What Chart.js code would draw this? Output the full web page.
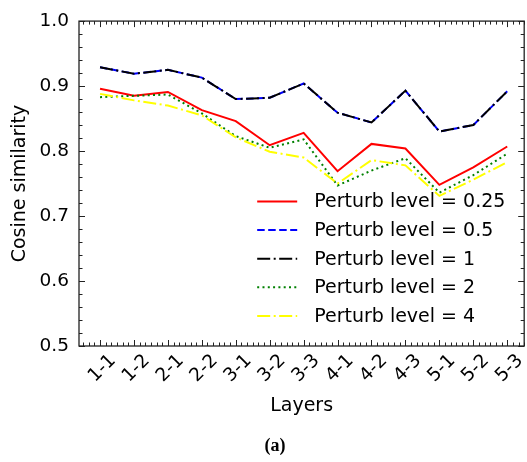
<!DOCTYPE html>
<html>
<head>
<meta charset="utf-8">
<script src="https://cdn.jsdelivr.net/npm/chart.js@4.4.0/dist/chart.umd.min.js"></script>
<style>
    body { margin: 0; background: #fff; }
</style>
</head>
<body>
<canvas id="myChart" width="527" height="462"></canvas>
<script>
// Data
    var layers = ['1-1','1-2','2-1','2-2','3-1','3-2','3-3','4-1','4-2','4-3','5-1','5-2','5-3'];
    var level025 = [0.896,0.885,0.891,0.863,0.846,0.809,0.828,0.769,0.811,0.804,0.748,0.775,0.807];
    var level05  = [0.929,0.919,0.925,0.913,0.880,0.882,0.904,0.859,0.844,0.893,0.830,0.840,0.892];
    var level1   = [0.929,0.919,0.925,0.913,0.880,0.882,0.904,0.859,0.844,0.893,0.830,0.840,0.892];
    var level2   = [0.883,0.885,0.887,0.858,0.823,0.805,0.818,0.747,0.770,0.789,0.736,0.763,0.796];
    var level4   = [0.888,0.878,0.870,0.855,0.821,0.799,0.790,0.750,0.786,0.778,0.731,0.756,0.783];
    var yTicks = [0.5, 0.6, 0.7, 0.8, 0.9, 1.0];
    var legendNames = ['Perturb level = 0.25','Perturb level = 0.5','Perturb level = 1','Perturb level = 2','Perturb level = 4'];
    var caption = '(a)';

    var fontFam = "'DejaVu Sans', sans-serif";

function toPoints(arr){
    return arr.map(function(v, i){ return {x: i, y: v}; });
}

function makeSet(i, values, color, dash){
    return {
        label: legendNames[i],
        data: toPoints(values),
        borderColor: color,
        backgroundColor: color,
        borderWidth: 2,
        borderDash: dash,
        borderCapStyle: 'butt',
        pointRadius: 0,
        tension: 0,
        fill: false,
        order: 5 - i
    };
}

// frame, inward ticks, legend inside plot and the caption
var extras = {
    id: 'extras',
    afterDatasetsDraw: function(chart){
        var ctx = chart.ctx, a = chart.chartArea;
        var xs = chart.scales.x, ys = chart.scales.y;
        try {
            ctx.save();
            ctx.strokeStyle = '#222';
            ctx.lineWidth = 1;
            var seg = function(x1, y1, x2, y2){
                ctx.beginPath(); ctx.moveTo(x1, y1); ctx.lineTo(x2, y2); ctx.stroke();
            };
            // x ticks, 6 steps per layer
            for (var k = -6; k <= 6 * layers.length; k++) {
                var v = k / 6;
                if (v < xs.min || v > xs.max) continue;
                var px = Math.round(xs.getPixelForValue(v)) + 0.5;
                var len = (k % 6 === 0) ? 6 : 3.5;
                seg(px, a.bottom, px, a.bottom - len);
                seg(px, a.top, px, a.top + len);
            }
            // y ticks, minor every 0.02
            for (var j = 0; j <= 25; j++) {
                var py = Math.round(ys.getPixelForValue(0.5 + j * 0.02)) + 0.5;
                var ylen = (j % 5 === 0) ? 6 : 3.5;
                seg(a.left, py, a.left + ylen, py);
                seg(a.right, py, a.right - ylen, py);
            }
            ctx.lineWidth = 1.3;
            ctx.strokeRect(a.left, a.top, a.right - a.left, a.bottom - a.top);

            // legend
            var x0 = a.right - 267, x1 = a.right - 227, tx = a.right - 210;
            var y0 = 201.5, step = 28.6;
            ctx.font = '19px ' + fontFam;
            ctx.textBaseline = 'middle';
            ctx.textAlign = 'left';
            ctx.fillStyle = '#000';
            chart.data.datasets.forEach(function(ds, i){
                var y = y0 + i * step;
                ctx.strokeStyle = ds.borderColor;
                ctx.lineWidth = ds.borderWidth;
                ctx.setLineDash(ds.borderDash || []);
                ctx.beginPath(); ctx.moveTo(x0, y); ctx.lineTo(x1, y); ctx.stroke();
                ctx.setLineDash([]);
                ctx.fillText(ds.label, tx, y + 1);
            });

            // caption
            ctx.font = "bold 18px 'Liberation Serif', serif";
            ctx.textAlign = 'center';
            ctx.fillText(caption, 275, 446);
            ctx.restore();
        } catch (e) {
            ctx.fillStyle = 'red';
            ctx.font = '12px sans-serif';
            ctx.fillText(String(e), 100, 100);
        }
    }
};

var ctx = document.getElementById('myChart').getContext('2d');
var myChart = new Chart(ctx, {
    type: 'line',
    data: {
        datasets: [
            makeSet(0, level025, '#ff0000', []),
            makeSet(1, level05, '#0000ff', [7.5, 3.5]),
            makeSet(2, level1, '#000000', [13, 3.5, 2, 3.5]),
            makeSet(3, level2, '#008000', [2, 3.3]),
            makeSet(4, level4, '#ffff00', [13, 3.5, 2, 3.5])
        ]
    },
    options: {
        responsive: false,
        animation: false,
        layout: { padding: { top: 14, right: 2, left: 0, bottom: 0 } },
        plugins: {
            legend: { display: false },
            tooltip: { enabled: false }
        },
        scales: {
            x: {
                type: 'linear',
                min: -0.62,
                max: 12.5,
                grid: { display: false, drawTicks: false },
                border: { display: false },
                afterBuildTicks: function(s){
                    s.ticks = layers.map(function(l, i){ return {value: i}; });
                },
                ticks: {
                    autoSkip: false,
                    maxRotation: 45,
                    minRotation: 45,
                    labelOffset: 13,
                    padding: 4,
                    color: '#000',
                    font: { family: fontFam, size: 18.5 },
                    callback: function(v){ return layers[Math.round(v)]; }
                },
                title: {
                    display: true,
                    text: 'Layers',
                    color: '#000',
                    font: { family: fontFam, size: 19 },
                    padding: { top: 0, bottom: 44.6 }
                },
                afterFit: function(s){ s.height = 116; }
            },
            y: {
                min: 0.5,
                max: 1.0,
                grid: { display: false, drawTicks: false },
                border: { display: false },
                afterBuildTicks: function(s){
                    s.ticks = yTicks.map(function(v){ return {value: v}; });
                },
                ticks: {
                    padding: 10,
                    color: '#000',
                    font: { family: fontFam, size: 18.5 },
                    callback: function(v){ return v.toFixed(1); }
                },
                title: {
                    display: true,
                    text: 'Cosine similarity',
                    color: '#000',
                    font: { family: fontFam, size: 19 },
                    padding: { top: 8.6, bottom: 0 }
                },
                afterFit: function(s){ s.width = 79; }
            }
        }
    },
    plugins: [extras]
});
</script>
</body>
</html>
